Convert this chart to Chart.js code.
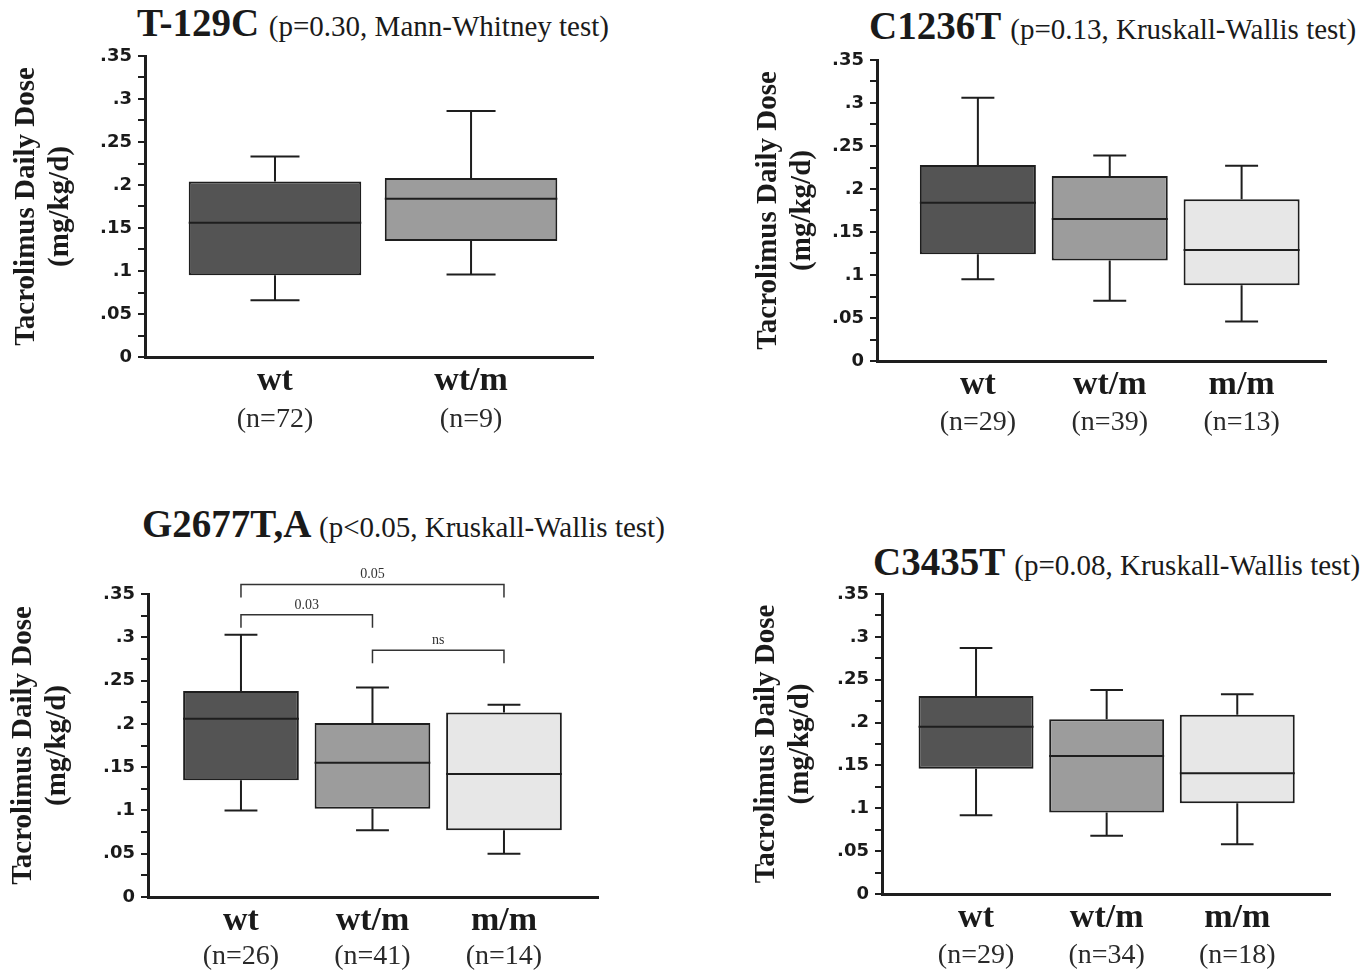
<!DOCTYPE html>
<html>
<head>
<meta charset="utf-8">
<script src="https://cdn.jsdelivr.net/npm/chart.js@4.4.0/dist/chart.umd.min.js"></script>
<style>
html, body { margin: 0; padding: 0; background: #fff; }
body { width: 1372px; height: 973px; position: relative; overflow: hidden; }
canvas { position: absolute; }
.ttl { position: absolute; font-family: "Liberation Serif", "Times New Roman", serif; color: #1a1a1a;
       white-space: nowrap; font-size: 39px; line-height: 39px; font-weight: bold; }
.ttl span { font-size: 29px; font-weight: normal; }
</style>
</head>
<body>
<div class="ttl" style="left:137px;top:3px">T-129C <span>(p=0.30, Mann-Whitney test)</span></div>
<div class="ttl" style="left:869px;top:6px">C1236T <span>(p=0.13, Kruskall-Wallis test)</span></div>
<div class="ttl" style="left:142px;top:504px">G2677T,A <span>(p&lt;0.05, Kruskall-Wallis test)</span></div>
<div class="ttl" style="left:873px;top:542px">C3435T <span>(p=0.08, Kruskall-Wallis test)</span></div>

<canvas id="p1" width="686" height="480" style="left:0;top:0"></canvas>
<canvas id="p2" width="686" height="480" style="left:686px;top:0"></canvas>
<canvas id="p3" width="686" height="487" style="left:0;top:486px"></canvas>
<canvas id="p4" width="686" height="487" style="left:686px;top:486px"></canvas>

<script>
// y axis
const yTickLabels = ['0', '.05', '.1', '.15', '.2', '.25', '.3', '.35'];
const yTitle = ['Tacrolimus Daily Dose', '(mg/kg/d)'];
const boxColors = ['#545454', '#9c9c9c', '#e7e7e7'];

// T-129C
const t129Categories = ['wt', 'wt/m'];
const t129Counts = ['(n=72)', '(n=9)'];
const t129Low = [0.066, 0.096];
const t129Q1 = [0.095, 0.135];
const t129Median = [0.156, 0.184];
const t129Q3 = [0.204, 0.208];
const t129High = [0.233, 0.286];

// C1236T
const c1236Categories = ['wt', 'wt/m', 'm/m'];
const c1236Counts = ['(n=29)', '(n=39)', '(n=13)'];
const c1236Low = [0.095, 0.070, 0.046];
const c1236Q1 = [0.124, 0.117, 0.088];
const c1236Median = [0.184, 0.165, 0.129];
const c1236Q3 = [0.228, 0.215, 0.188];
const c1236High = [0.306, 0.239, 0.227];

// G2677T,A
const g2677Categories = ['wt', 'wt/m', 'm/m'];
const g2677Counts = ['(n=26)', '(n=41)', '(n=14)'];
const g2677Low = [0.100, 0.077, 0.050];
const g2677Q1 = [0.135, 0.102, 0.077];
const g2677Median = [0.206, 0.155, 0.142];
const g2677Q3 = [0.238, 0.201, 0.213];
const g2677High = [0.303, 0.242, 0.222];
// pairwise comparisons
const g2677BracketFrom = [0, 0, 1];
const g2677BracketTo = [2, 1, 2];
const g2677BracketTop = [0.361, 0.326, 0.285];
const g2677BracketFoot = [0.346, 0.311, 0.270];
const g2677BracketText = ['0.05', '0.03', 'ns'];

// C3435T
const c3435Categories = ['wt', 'wt/m', 'm/m'];
const c3435Counts = ['(n=29)', '(n=34)', '(n=18)'];
const c3435Low = [0.092, 0.068, 0.058];
const c3435Q1 = [0.146, 0.095, 0.106];
const c3435Median = [0.195, 0.161, 0.141];
const c3435Q3 = [0.231, 0.204, 0.209];
const c3435High = [0.287, 0.238, 0.233];

const ink = '#1e1e1e';
const serif = '"Liberation Serif", "Times New Roman", serif';

// whiskers, medians and brackets drawn on top of the floating bars
const boxWhiskerPlugin = {
    id: 'boxWhiskers',
    afterDatasetsDraw(chart, args, opts) {
        const ctx = chart.ctx;
        const x = chart.scales.x;
        const y = chart.scales.y;
        const meta = chart.getDatasetMeta(0);
        ctx.save();
        ctx.strokeStyle = ink;
        ctx.lineWidth = 2;
        ctx.beginPath();
        opts.median.forEach((m, i) => {
            const cx = x.getPixelForValue(i);
            const half = meta.data[i].width / 2;
            const cap = x.getPixelForValue(i + 0.125) - cx;
            const yMed = y.getPixelForValue(m);
            const yQ1 = y.getPixelForValue(opts.q1[i]);
            const yQ3 = y.getPixelForValue(opts.q3[i]);
            const yLo = y.getPixelForValue(opts.low[i]);
            const yHi = y.getPixelForValue(opts.high[i]);
            ctx.moveTo(cx - half, yMed); ctx.lineTo(cx + half, yMed);
            ctx.moveTo(cx, yQ3); ctx.lineTo(cx, yHi);
            ctx.moveTo(cx - cap, yHi); ctx.lineTo(cx + cap, yHi);
            ctx.moveTo(cx, yQ1); ctx.lineTo(cx, yLo);
            ctx.moveTo(cx - cap, yLo); ctx.lineTo(cx + cap, yLo);
        });
        ctx.stroke();

        if (opts.bracketFrom) {
            ctx.lineWidth = 1.5;
            ctx.strokeStyle = '#333';
            ctx.fillStyle = '#333';
            ctx.font = '14px ' + serif;
            ctx.textAlign = 'center';
            ctx.textBaseline = 'alphabetic';
            opts.bracketFrom.forEach((a, k) => {
                const x1 = x.getPixelForValue(a);
                const x2 = x.getPixelForValue(opts.bracketTo[k]);
                const yt = y.getPixelForValue(opts.bracketTop[k]);
                const yf = y.getPixelForValue(opts.bracketFoot[k]);
                ctx.beginPath();
                ctx.moveTo(x1, yf); ctx.lineTo(x1, yt); ctx.lineTo(x2, yt); ctx.lineTo(x2, yf);
                ctx.stroke();
                ctx.fillText(opts.bracketText[k], (x1 + x2) / 2, yt - 6);
            });
        }
        ctx.restore();
    }
};

function createBoxPanel(id, p) {
    const canvas = document.getElementById(id);
    const n = p.categories.length;
    const boxes = p.q1.map((q, i) => ({ x: i, y: [q, p.q3[i]] }));
    const catTicks = s => { s.ticks = p.categories.map((c, i) => ({ value: i })); };

    return new Chart(canvas.getContext('2d'), {
        type: 'bar',
        data: {
            datasets: [{
                data: boxes,
                backgroundColor: boxColors.slice(0, n),
                borderColor: ink,
                borderWidth: 2,
                borderSkipped: false,
                barPercentage: 0.88,
                categoryPercentage: 1
            }]
        },
        options: {
            responsive: false,
            animation: false,
            layout: { padding: { top: p.top, right: p.right, bottom: p.bottom, left: 0 } },
            plugins: {
                legend: { display: false },
                tooltip: { enabled: false },
                boxWhiskers: {
                    low: p.low, q1: p.q1, median: p.median, q3: p.q3, high: p.high,
                    bracketFrom: p.bracketFrom, bracketTo: p.bracketTo,
                    bracketTop: p.bracketTop, bracketFoot: p.bracketFoot, bracketText: p.bracketText
                }
            },
            scales: {
                x: {
                    type: 'linear',
                    position: 'bottom',
                    offset: false,
                    weight: 0,
                    min: p.xMin,
                    max: p.xMax,
                    grid: { display: false, drawTicks: false, offset: false },
                    border: { display: true, color: ink, width: 3 },
                    afterBuildTicks: catTicks,
                    afterFit: s => { s.height = 40; },
                    ticks: {
                        autoSkip: false,
                        maxRotation: 0,
                        padding: 4,
                        color: '#1a1a1a',
                        font: { family: serif, size: 34, weight: 'bold' },
                        callback: v => p.categories[v]
                    }
                },
                xn: {
                    type: 'linear',
                    position: 'bottom',
                    offset: false,
                    weight: 1,
                    min: p.xMin,
                    max: p.xMax,
                    grid: { display: false, drawTicks: false, offset: false },
                    border: { display: false },
                    afterBuildTicks: catTicks,
                    afterFit: s => { s.height = p.nHeight; },
                    ticks: {
                        autoSkip: false,
                        maxRotation: 0,
                        padding: p.nPad,
                        color: '#2a2a2a',
                        font: { family: serif, size: 28 },
                        callback: v => p.counts[v]
                    }
                },
                y: {
                    min: 0,
                    max: 0.35,
                    afterBuildTicks: s => {
                        s.ticks = Array.from({ length: 15 }, (_, i) => ({ value: i * 0.025 }));
                    },
                    afterFit: s => { s.width = p.yWidth; },
                    grid: { drawOnChartArea: false, drawTicks: true, tickLength: 7, color: ink, lineWidth: 2 },
                    border: { display: true, color: ink, width: 3 },
                    ticks: {
                        autoSkip: false,
                        padding: 6,
                        color: '#1a1a1a',
                        font: { family: '"DejaVu Sans", Arial, sans-serif', size: 18, weight: 'bold' },
                        callback: (v, i) => (i % 2 === 0 ? yTickLabels[i / 2] : '')
                    },
                    title: {
                        display: true,
                        text: yTitle,
                        color: '#1a1a1a',
                        font: { family: serif, size: 29, weight: 'bold', lineHeight: 1.15 },
                        padding: { top: p.titlePad, bottom: 0 }
                    }
                }
            }
        },
        plugins: [boxWhiskerPlugin]
    });
}

createBoxPanel('p1', {
    categories: t129Categories, counts: t129Counts,
    low: t129Low, q1: t129Q1, median: t129Median, q3: t129Q3, high: t129High,
    xMin: -0.663, xMax: 1.622, yWidth: 145, top: 56, right: 93, bottom: 43, nHeight: 40, nPad: 6, titlePad: 10
});

createBoxPanel('p2', {
    categories: c1236Categories, counts: c1236Counts,
    low: c1236Low, q1: c1236Q1, median: c1236Median, q3: c1236Q3, high: c1236High,
    xMin: -0.765, xMax: 2.64, yWidth: 191, top: 60, right: 46, bottom: 39, nHeight: 40, nPad: 5, titlePad: 66
});

createBoxPanel('p3', {
    categories: g2677Categories, counts: g2677Counts,
    low: g2677Low, q1: g2677Q1, median: g2677Median, q3: g2677Q3, high: g2677High,
    bracketFrom: g2677BracketFrom, bracketTo: g2677BracketTo,
    bracketTop: g2677BracketTop, bracketFoot: g2677BracketFoot, bracketText: g2677BracketText,
    xMin: -0.707, xMax: 2.715, yWidth: 148, top: 108, right: 88, bottom: 0, nHeight: 36, nPad: 3, titlePad: 7
});

createBoxPanel('p4', {
    categories: c3435Categories, counts: c3435Counts,
    low: c3435Low, q1: c3435Q1, median: c3435Median, q3: c3435Q3, high: c3435High,
    xMin: -0.72, xMax: 2.71, yWidth: 196, top: 108, right: 42, bottom: 0, nHeight: 39, nPad: 5, titlePad: 64
});
</script>
</body>
</html>
